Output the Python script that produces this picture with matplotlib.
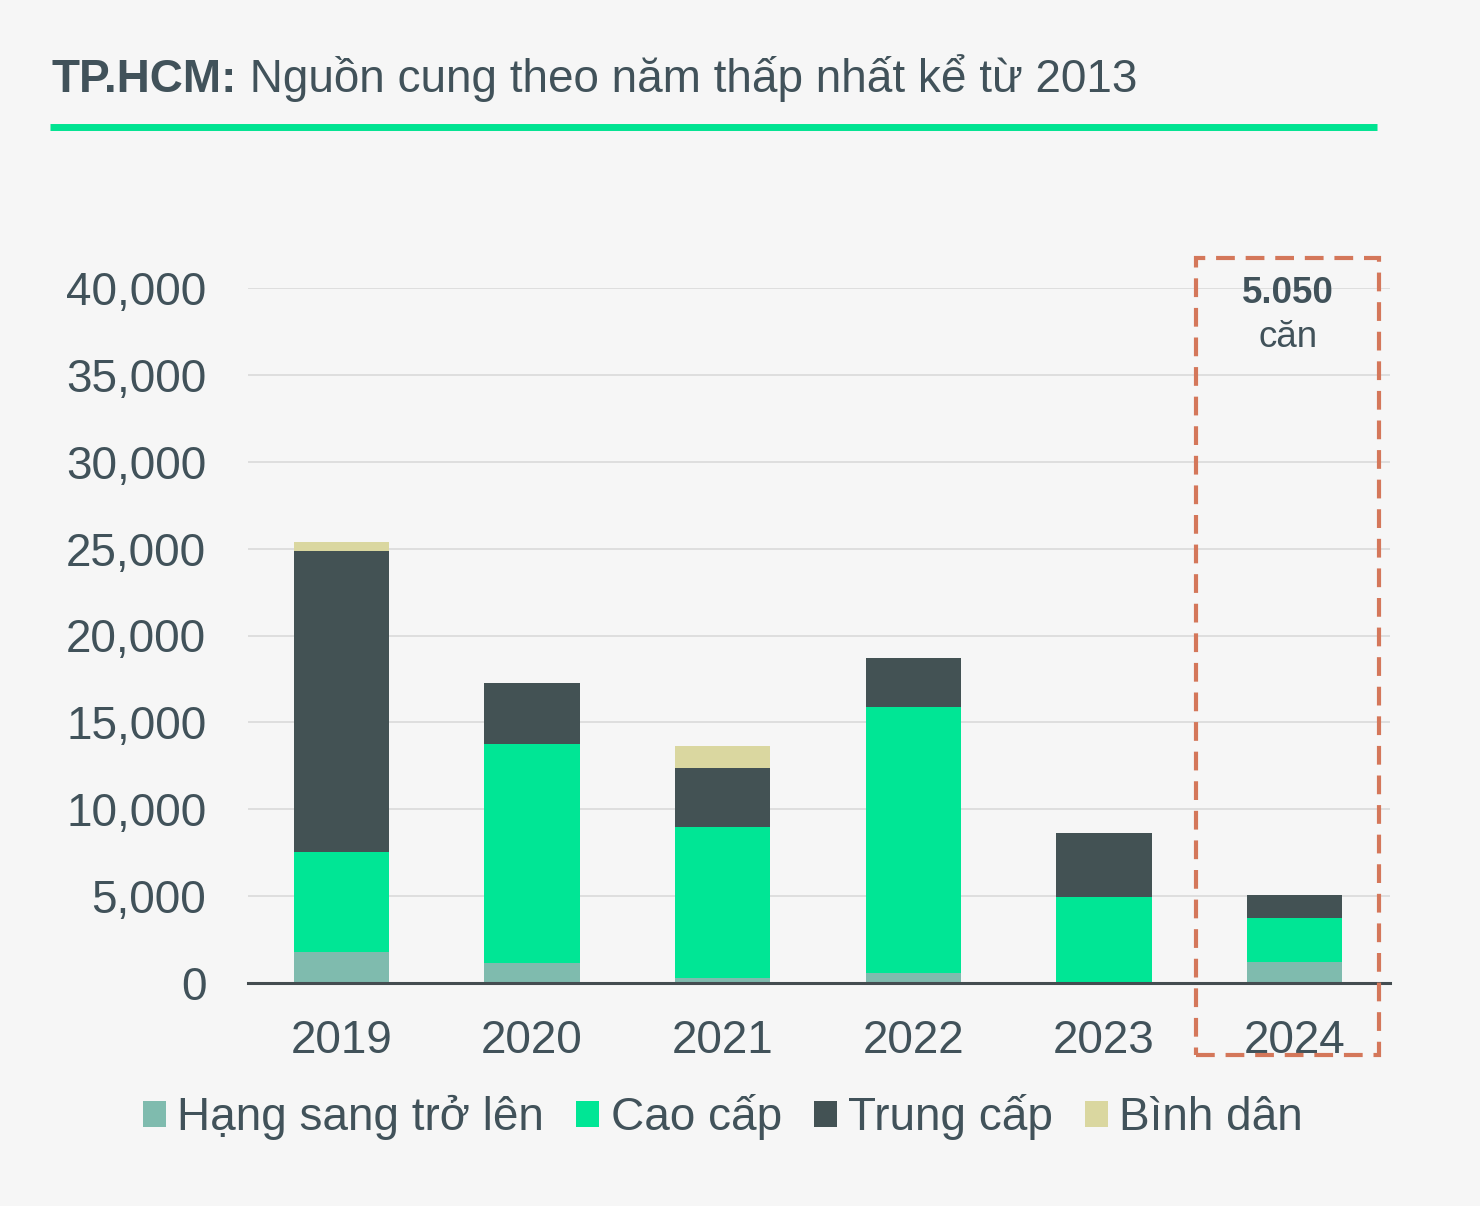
import matplotlib
matplotlib.use("Agg")
import matplotlib.pyplot as plt
from matplotlib.patches import Rectangle, Patch
from matplotlib.ticker import FuncFormatter
import numpy as np

plt.rcParams['font.family'] = ['Liberation Sans', 'DejaVu Sans']

years = ["2019", "2020", "2021", "2022", "2023", "2024"]
hang_sang = [1800, 1130, 300, 590, 0, 1200]
cao_cap = [5760, 12600, 8660, 15300, 4950, 2550]
trung_cap = [17320, 3510, 3400, 2820, 3680, 1300]
binh_dan = [480, 0, 1280, 0, 0, 0]
series_names = ["Hạng sang trở lên", "Cao cấp", "Trung cấp", "Bình dân"]
colors = ["#7FBBAE", "#00E695", "#435254", "#DAD7A0"]
yticks = [0, 5000, 10000, 15000, 20000, 25000, 30000, 35000, 40000]
title_bold = "TP.HCM:"
title_rest = " Nguồn cung theo năm thấp nhất kể từ 2013"
callout_value = "5.050"
callout_unit = "căn"

TXT = "#41525A"
fig = plt.figure(figsize=(14.8, 12.06), dpi=100, facecolor="#F6F6F6")
ax = fig.add_axes([248/1480, 223/1206, 1142/1480, 695/1206])
ax.set_facecolor("none")

x = np.arange(len(years))
bottom = np.zeros(len(years))
for vals, c in zip([hang_sang, cao_cap, trung_cap, binh_dan], colors):
    v = np.array(vals, dtype=float)
    ax.bar(x, v, width=0.5, bottom=bottom, color=c, zorder=3, linewidth=0)
    bottom += v

ax.set_xlim(-0.49, 5.5)
ax.set_ylim(0, 40000)
ax.set_yticks(yticks)
ax.yaxis.set_major_formatter(FuncFormatter(lambda v, p: f"{int(v):,}"))
ax.set_xticks(x)
ax.set_xticklabels(years)
ax.tick_params(axis='y', length=0, pad=30, labelsize=33, labelcolor=TXT)
ax.tick_params(axis='x', length=0, pad=26, labelsize=33, labelcolor=TXT)
ax.grid(axis='y', color="#DADADA", linewidth=1.2, zorder=0)
for s in ["top", "right", "left"]:
    ax.spines[s].set_visible(False)
ax.spines["bottom"].set_color("#444C50")
ax.spines["bottom"].set_linewidth(2.2)
ax.spines["bottom"].set_zorder(4)

# dashed callout box around 2024
rect = Rectangle((4.482, -4150), 5.442 - 4.482, 41730 + 4150, fill=False,
                 edgecolor="#D4775A", linewidth=3, linestyle=(0, (4.5, 2.6)),
                 clip_on=False, zorder=5)
ax.add_patch(rect)
ax.text(4.965, 39700, callout_value, ha="center", va="center", fontsize=26.5,
        fontweight="bold", color=TXT, zorder=6)
ax.text(4.965, 37150, callout_unit, ha="center", va="center", fontsize=26.5,
        color=TXT, zorder=6)

# title
t1 = fig.text(52/1480, 1 - 92/1206, title_bold, fontsize=33, fontweight="bold",
              color=TXT, ha="left", va="baseline")
fig.canvas.draw()
ax.annotate(title_rest, xy=(1, 0), xycoords=t1, ha="left", va="bottom",
            fontsize=33, color=TXT, annotation_clip=False)
fig.add_artist(plt.Line2D([50/1480, 1377/1480], [1 - 127/1206, 1 - 127/1206],
                          transform=fig.transFigure, color="#00E391", linewidth=5,
                          solid_capstyle="butt"))

handles = [Patch(facecolor=c, edgecolor="none") for c in colors]
fig.legend(handles, series_names, loc="center", bbox_to_anchor=(723/1480, 89/1206),
           ncol=4, frameon=False, fontsize=33, labelcolor=TXT,
           handlelength=0.5, handleheight=0.5, handletextpad=0.25,
           columnspacing=0.7)

fig.savefig("out.png", dpi=100, facecolor=fig.get_facecolor())
